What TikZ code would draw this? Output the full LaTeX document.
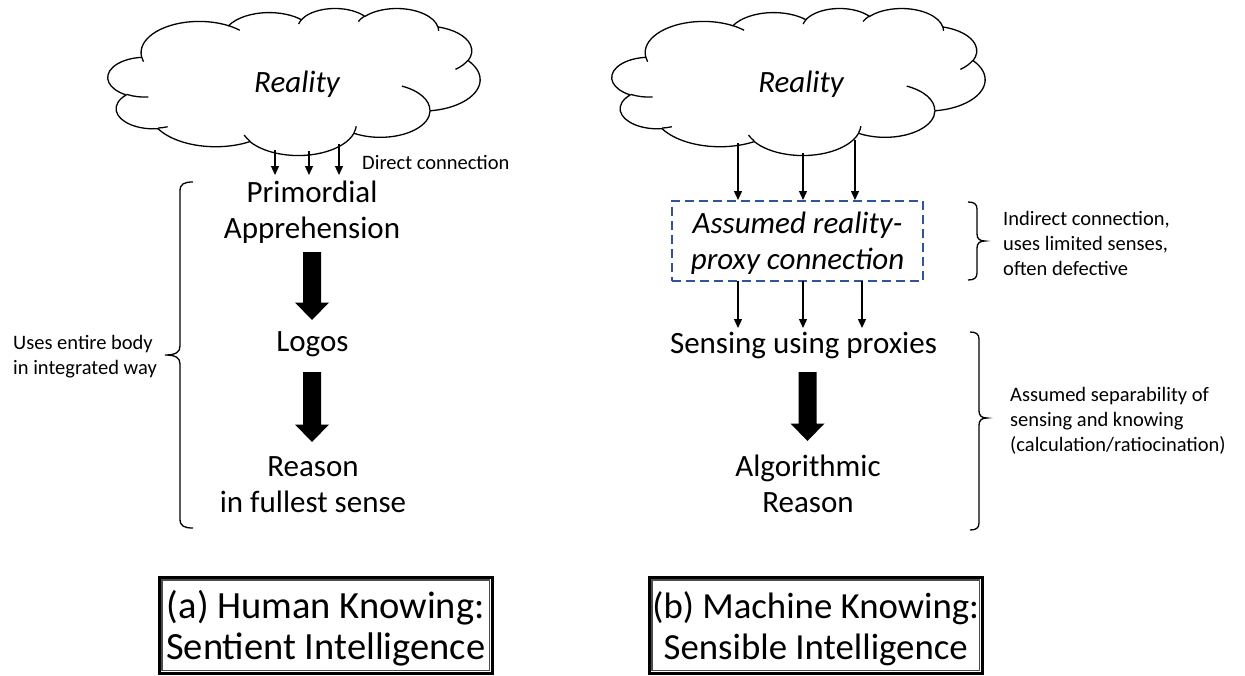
\documentclass[tikz,border=0pt]{standalone}
\usepackage{fontspec}
\setmainfont{Carlito}
\usetikzlibrary{arrows.meta,calc}

\newcommand\bigf{\fontsize{31}{36}\selectfont}
\newcommand\smallf{\fontsize{20.5}{25}\selectfont}
\newcommand\boxf{\fontsize{38.5}{41}\selectfont}
\newcommand\boxfb{\fontsize{36.8}{41}\selectfont}
\definecolor{dashblue}{RGB}{47,85,151}

% Office-style cloud arcs (angles taken on the unscaled ellipse, then scaled)
\newcommand\ca[4]{arc[x radius={#1*\cW*1pt}, y radius={#2*\cH*1pt}, start angle={-atan2(#1*sin(#3),#2*cos(#3))}, delta angle={-mod(atan2(#1*sin(#3+#4),#2*cos(#3+#4))-atan2(#1*sin(#3),#2*cos(#3))+720,360)}]}
\newcommand\cp[2]{({\cX+#1*\cW},{\cY+#2*\cH})}

\newcommand\drawcloud[4]{%
 \def\cX{#1}\def\cY{#2}\def\cW{#3}\def\cH{#4}%
 \draw[cloudline, fill=white] \cp{0.09028}{0.33264}
   \ca{0.15632}{0.21273}{-190.487}{123.781}
   \ca{0.12345}{0.16822}{-144.102}{89.945}
   \ca{0.10104}{0.13762}{-145.808}{99.723}
   \ca{0.11243}{0.15266}{-130.986}{117.242}
   \ca{0.12345}{0.16836}{-78.709}{109.027}
   \ca{0.15683}{0.21343}{-46.267}{130.269}
   \ca{0.13391}{0.18211}{0.625}{114.033}
   \ca{0.15630}{0.21331}{22.452}{115.173}
   \ca{0.17870}{0.24405}{66.243}{75.711}
   \ca{0.10093}{0.13699}{-274.942}{146.736}
   \ca{0.10058}{0.13762}{-246.829}{152.519}
   -- cycle;
 \draw[cloudline]
   \cp{0.10864}{0.60595} \ca{0.10058}{0.13762}{86.742}{26.430}
   \cp{0.16037}{0.80785} \ca{0.10093}{0.13699}{73.611}{11.447}
   \cp{0.38144}{0.90486} \ca{0.15630}{0.21331}{137.624}{14.081}
   \cp{0.66729}{0.80442} \ca{0.15630}{0.21331}{6.453}{15.998}
   \cp{0.79002}{0.53134} \ca{0.13391}{0.18211}{-70.292}{70.917}
   \cp{0.96755}{0.35542} \ca{0.12345}{0.16836}{30.318}{27.752}
   \cp{0.88713}{0.12560} \ca{0.11243}{0.15266}{-13.744}{14.859}
   \cp{0.67310}{0.09148} \ca{0.11243}{0.15266}{-149.181}{18.195}
   \cp{0.51252}{0.10926} \ca{0.10104}{0.13762}{-163.494}{17.686}
   \cp{0.32407}{0.12019} \ca{0.15632}{0.21273}{-66.707}{12.319}
   \cp{0.09553}{0.36549} \ca{0.15632}{0.21273}{157.654}{11.858};
}

% brace opening to the right (tip on the left)
\newcommand\bracetipleft[4]{%
 \draw[braceline] ({#1+13},{#2}) .. controls ({#1+4},{#2}) and ({#1},{#2+2}) .. ({#1},{#2+9})
   -- ({#1},{#3-9}) .. controls ({#1},{#3-3}) and ({#1-4},{#3}) .. ({#1-15},{#3})
   .. controls ({#1-4},{#3}) and ({#1},{#3+3}) .. ({#1},{#3+9})
   -- ({#1},{#4-9}) .. controls ({#1},{#4-2}) and ({#1+4},{#4}) .. ({#1+13},{#4});}
% brace opening to the left (tip on the right)
\newcommand\bracetipright[4]{%
 \draw[braceline] ({#1-9},{#2}) .. controls ({#1-3},{#2}) and ({#1},{#2+2}) .. ({#1},{#2+7})
   -- ({#1},{#3-7}) .. controls ({#1},{#3-2}) and ({#1+3},{#3}) .. ({#1+8},{#3})
   .. controls ({#1+3},{#3}) and ({#1},{#3+2}) .. ({#1},{#3+7})
   -- ({#1},{#4-7}) .. controls ({#1},{#4-2}) and ({#1-3},{#4}) .. ({#1-9},{#4});}

\newcommand\blockarrow[2]{%
 \fill[black] let \p1=(#1), \p2=(#2) in
   (\x1-9pt,\y1) -- (\x1+9pt,\y1) -- (\x1+9pt,\y2+17.5pt) -- (\x1+17pt,\y2+17.5pt)
   -- (\x1,\y2) -- (\x1-17pt,\y2+17.5pt) -- (\x1-9pt,\y2+17.5pt) -- cycle;}

\tikzset{
 cloudline/.style={line width=1.3pt, line join=round},
 thinarrow/.style={line width=1.3pt, -{Triangle[length=9pt,width=8pt]}},
 braceline/.style={line width=1.3pt},
 bigtxt/.style={font=\bigf, align=center, inner sep=0pt},
 smalltxt/.style={font=\smallf, align=left, inner sep=0pt, anchor=west},
 proxybox/.style={draw=dashblue, line width=1.3pt, dash pattern=on 9pt off 5pt,
   minimum width=251pt, minimum height=80pt, font=\bigf\itshape, align=center, inner sep=0pt},
 frame/.style={draw, line width=3pt, minimum width=332.5pt, minimum height=95.5pt, inner sep=0pt},
 innerframe/.style={line width=1.2pt, draw=black!70},
 boxtext/.style={font=\boxf, align=center, inner sep=0pt},
}

\begin{document}
\begin{tikzpicture}[x=1pt,y=-1pt]
\useasboundingbox (0,0) rectangle (1245,675);

% ---------- clouds ----------
\drawcloud{108}{8}{372}{147}
\drawcloud{612}{8}{373}{147}
\node[bigtxt, font=\bigf\itshape] (realL) at (297,85) {\strut Reality};
\node[bigtxt, font=\bigf\itshape] (realR) at (801,85) {\strut Reality};

% ---------- left column ----------
\node[bigtxt] (prim) at (312,213.5) {\strut Primordial\\\strut Apprehension};
\node[bigtxt] (logos) at (312.5,344) {\strut Logos};
\node[bigtxt] (reasonL) at (313,487) {\strut Reason\\\strut in fullest sense};
\node[smalltxt] (direct) at (362,164.5) {\strut Direct connection};
\node[smalltxt] (uses) at (13,357) {\strut Uses entire body\\\strut in integrated way};

\coordinate (l1s) at (275,150); \coordinate (l1e) at (275,175);
\coordinate (l2s) at (309,151); \coordinate (l2e) at (309,175);
\coordinate (l3s) at (339,144); \coordinate (l3e) at (339,175);
\draw[thinarrow] (l1s) -- (l1e);
\draw[thinarrow] (l2s) -- (l2e);
\draw[thinarrow] (l3s) -- (l3e);

\coordinate (bl1s) at (312,252); \coordinate (bl1e) at (312,320);
\coordinate (bl2s) at (312,372); \coordinate (bl2e) at (312,442);
\blockarrow{bl1s}{bl1e}
\blockarrow{bl2s}{bl2e}

\bracetipleft{180}{182}{355}{528}

% ---------- right column ----------
\node[proxybox] (proxy) at (797.5,241) {\rule{0pt}{31.2pt}Assumed reality-\\\strut proxy connection};
\node[bigtxt] (sensing) at (803.5,346) {\strut Sensing using proxies};
\node[bigtxt] (algo) at (808,487.5) {\strut Algorithmic\\\strut Reason};
\node[smalltxt] (indirect) at (1003,245.5) {\strut Indirect connection,\\\strut uses limited senses,\\\strut often defective};
\node[smalltxt] (separ) at (1010,421.5) {\strut Assumed separability of\\\strut sensing and knowing\\\strut (calculation/ratiocination)};

\coordinate (r1s) at (738,143); \coordinate (r1e) at (738,200);
\coordinate (r2s) at (803,153); \coordinate (r2e) at (803,200);
\coordinate (r3s) at (855,140); \coordinate (r3e) at (855,200);
\draw[thinarrow] (r1s) -- (r1e);
\draw[thinarrow] (r2s) -- (r2e);
\draw[thinarrow] (r3s) -- (r3e);

\coordinate (p1s) at (738,281); \coordinate (p1e) at (738,328);
\coordinate (p2s) at (803,281); \coordinate (p2e) at (803,328);
\coordinate (p3s) at (862,281); \coordinate (p3e) at (862,328);
\draw[thinarrow] (p1s) -- (p1e);
\draw[thinarrow] (p2s) -- (p2e);
\draw[thinarrow] (p3s) -- (p3e);

\coordinate (br1s) at (807.5,372); \coordinate (br1e) at (807.5,441);
\blockarrow{br1s}{br1e}

\bracetipright{977}{202}{241}{280}
\bracetipright{979}{332}{418}{530}

% ---------- captions ----------
\node[frame] (boxA) at (325.75,625.25) {};
\draw[innerframe] ([shift={(4,4)}]boxA.north west) rectangle ([shift={(-4,-4)}]boxA.south east);
\node[boxtext] (boxAt) at (325.75,631) {\strut (a) Human Knowing:\\\strut Sentient Intelligence};

\node[frame] (boxB) at (815.75,625.25) {};
\draw[innerframe] ([shift={(4,4)}]boxB.north west) rectangle ([shift={(-4,-4)}]boxB.south east);
\node[boxtext, font=\boxfb] (boxBt) at (815.75,631) {\strut (b) Machine Knowing:\\\strut Sensible Intelligence};

\end{tikzpicture}
\end{document}
